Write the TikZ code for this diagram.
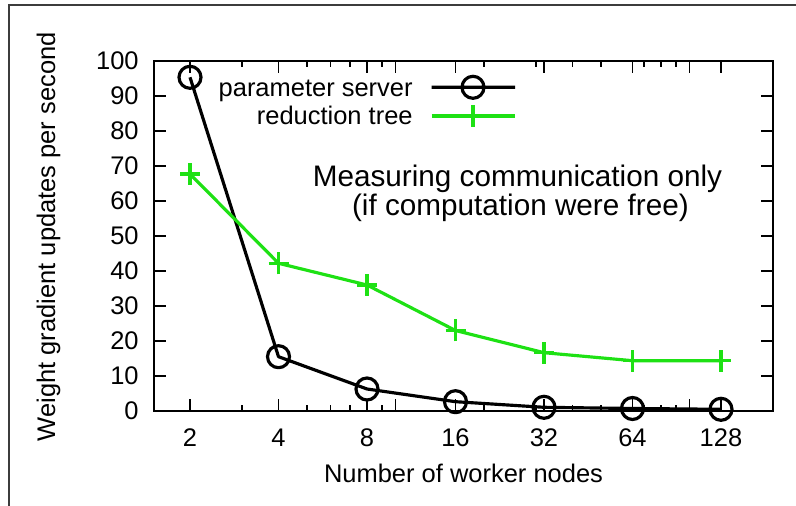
\documentclass[tikz,border=0pt]{standalone}
\usepackage{fontspec}
\setmainfont{Liberation Sans}
\usepackage{tikz}
\definecolor{rtgreen}{RGB}{30,225,20}
\definecolor{framegray}{RGB}{60,60,60}

\begin{document}
\begin{tikzpicture}[x=0.02cm, y=0.02cm,
  axisline/.style={black, line width=1.1pt},
  tickline/.style={black, line width=0.9pt},
  psline/.style={black, line width=1.8pt, line join=round},
  rtline/.style={rtgreen, line width=1.8pt, line join=round},
  ticklbl/.style={font=\fontsize{14.5}{17}\selectfont},
  notelbl/.style={font=\fontsize{16.9}{20}\selectfont}]
\tikzstyle{every node}+=[inner sep=0pt]
\useasboundingbox (0,0) rectangle (796,-506);
\draw [framegray, line width=0.8pt] (796,-5) -- (9,-5) -- (9,-506);
\draw [axisline] (154,-61) rectangle (773,-411);
\draw [tickline] (154,-376) -- (166,-376) (154,-341) -- (166,-341) (154,-306) -- (166,-306);
\draw [tickline] (154,-271) -- (166,-271) (154,-236) -- (166,-236) (154,-201) -- (166,-201);
\draw [tickline] (154,-166) -- (166,-166) (154,-131) -- (166,-131) (154,-96) -- (166,-96);
\draw [tickline] (773,-376) -- (761,-376) (773,-341) -- (761,-341) (773,-306) -- (761,-306);
\draw [tickline] (773,-271) -- (761,-271) (773,-236) -- (761,-236) (773,-201) -- (761,-201);
\draw [tickline] (773,-166) -- (761,-166) (773,-131) -- (761,-131) (773,-96) -- (761,-96);
\draw [tickline] (190,-411) -- (190,-399) (278.5,-411) -- (278.5,-399) (367,-411) -- (367,-399);
\draw [tickline] (455.5,-411) -- (455.5,-399) (544,-411) -- (544,-399) (632.5,-411) -- (632.5,-399);
\draw [tickline] (721,-411) -- (721,-399) (395.5,-411) -- (395.5,-399) (689.5,-411) -- (689.5,-399);
\draw [tickline] (190,-61) -- (190,-73) (278.5,-61) -- (278.5,-73) (367,-61) -- (367,-73);
\draw [tickline] (455.5,-61) -- (455.5,-73) (544,-61) -- (544,-73) (632.5,-61) -- (632.5,-73);
\draw [tickline] (721,-61) -- (721,-73) (395.5,-61) -- (395.5,-73) (689.5,-61) -- (689.5,-73);
\draw [tickline] (241.8,-411) -- (241.8,-405) (307,-411) -- (307,-405) (330.3,-411) -- (330.3,-405);
\draw [tickline] (349.9,-411) -- (349.9,-405) (382,-411) -- (382,-405) (484,-411) -- (484,-405);
\draw [tickline] (535.8,-411) -- (535.8,-405) (572.5,-411) -- (572.5,-405) (601,-411) -- (601,-405);
\draw [tickline] (643.9,-411) -- (643.9,-405) (661,-411) -- (661,-405) (676,-411) -- (676,-405);
\draw [tickline] (241.8,-61) -- (241.8,-67) (307,-61) -- (307,-67) (330.3,-61) -- (330.3,-67);
\draw [tickline] (349.9,-61) -- (349.9,-67) (382,-61) -- (382,-67) (484,-61) -- (484,-67);
\draw [tickline] (535.8,-61) -- (535.8,-67) (572.5,-61) -- (572.5,-67) (601,-61) -- (601,-67);
\draw [tickline] (643.9,-61) -- (643.9,-67) (661,-61) -- (661,-67) (676,-61) -- (676,-67);
\node [ticklbl, anchor=east] (y0) at (139,-411) {0};
\node [ticklbl, anchor=east] (y10) at (139,-376) {10};
\node [ticklbl, anchor=east] (y20) at (139,-341) {20};
\node [ticklbl, anchor=east] (y30) at (139,-306) {30};
\node [ticklbl, anchor=east] (y40) at (139,-271) {40};
\node [ticklbl, anchor=east] (y50) at (139,-236) {50};
\node [ticklbl, anchor=east] (y60) at (139,-201) {60};
\node [ticklbl, anchor=east] (y70) at (139,-166) {70};
\node [ticklbl, anchor=east] (y80) at (139,-131) {80};
\node [ticklbl, anchor=east] (y90) at (139,-96) {90};
\node [ticklbl, anchor=east] (y100) at (139,-61) {100};
\node [ticklbl] (x2) at (190,-438) {2};
\node [ticklbl] (x4) at (278.5,-438) {4};
\node [ticklbl] (x8) at (367,-438) {8};
\node [ticklbl] (x16) at (455.5,-438) {16};
\node [ticklbl] (x32) at (544,-438) {32};
\node [ticklbl] (x64) at (632.5,-438) {64};
\node [ticklbl] (x128) at (721,-438) {128};
\node [ticklbl, anchor=base] (xlabel) at (463.5,-483) {Number of worker nodes};
\node [ticklbl, anchor=base, rotate=90] (ylabel) at (55,-236.7) {Weight gradient updates per second};
\coordinate (p2) at (190,-77.3);
\coordinate (p4) at (278.5,-356.7);
\coordinate (p8) at (367,-389);
\coordinate (p16) at (455.5,-401.7);
\coordinate (p32) at (544,-407.3);
\coordinate (p64) at (632.5,-408.5);
\coordinate (p128) at (721,-409.3);
\coordinate (r2) at (190,-174);
\coordinate (r4) at (278.5,-263.3);
\coordinate (r8) at (367,-285);
\coordinate (r16) at (455.5,-330.5);
\coordinate (r32) at (544,-352.7);
\coordinate (r64) at (632.5,-360.7);
\coordinate (r128) at (721,-360.7);
\draw [psline] (p2) -- (p4) -- (p8) -- (p16) -- (p32) -- (p64) -- (p128);
\draw [psline] (p2) circle (11) (p4) circle (11) (p8) circle (11) (p16) circle (11);
\draw [psline] (p32) circle (11) (p64) circle (11) (p128) circle (11);
\draw [rtline] (r2) -- (r4) -- (r8) -- (r16) -- (r32) -- (r64) -- (r128);
\draw [rtline] (r2) ++(-10,0) -- ++(20,0) (r2) ++(0,-11) -- ++(0,22);
\draw [rtline] (r4) ++(-10,0) -- ++(20,0) (r4) ++(0,-11) -- ++(0,22);
\draw [rtline] (r8) ++(-10,0) -- ++(20,0) (r8) ++(0,-11) -- ++(0,22);
\draw [rtline] (r16) ++(-10,0) -- ++(20,0) (r16) ++(0,-11) -- ++(0,22);
\draw [rtline] (r32) ++(-10,0) -- ++(20,0) (r32) ++(0,-11) -- ++(0,22);
\draw [rtline] (r64) ++(-10,0) -- ++(20,0) (r64) ++(0,-11) -- ++(0,22);
\draw [rtline] (r128) ++(-10,0) -- ++(20,0) (r128) ++(0,-11) -- ++(0,22);
\node [ticklbl, anchor=base east] (psname) at (413,-96.7) {parameter server};
\node [ticklbl, anchor=base east] (rtname) at (413,-125) {reduction tree};
\coordinate (psa) at (431.7,-87.3);
\coordinate (psb) at (515,-87.3);
\coordinate (psm) at (473,-87.3);
\coordinate (rta) at (431.7,-116);
\coordinate (rtb) at (515,-116);
\coordinate (rtm) at (473,-116);
\draw [psline] (psa) -- (psb) (psm) circle (11);
\draw [rtline] (rta) -- (rtb) (rtm) ++(0,-11) -- ++(0,22);
\node [notelbl, anchor=base] (note1) at (517.5,-186.7) {Measuring communication only};
\node [notelbl, anchor=base] (note2) at (520.4,-216) {(if computation were free)};
\end{tikzpicture}
\end{document}
